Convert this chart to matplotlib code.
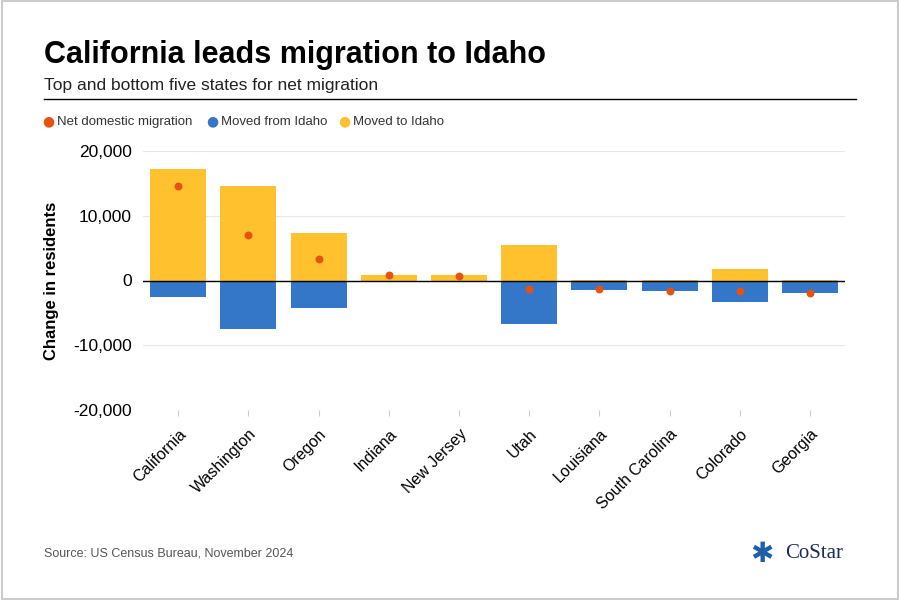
import matplotlib
matplotlib.use("Agg")
import matplotlib.pyplot as plt
from matplotlib.patches import Rectangle
import numpy as np
plt.rcParams['font.family'] = ['Liberation Sans', 'DejaVu Sans']

states = ["California","Washington","Oregon","Indiana","New Jersey","Utah","Louisiana","South Carolina","Colorado","Georgia"]
moved_to = [17200,14600,7400,800,800,5500,100,100,1800,50]
moved_from = [-2600,-7500,-4200,-100,-50,-6800,-1400,-1700,-3400,-2000]
net = [14600,7100,3400,900,700,-1300,-1300,-1600,-1600,-2000]

fig = plt.figure(figsize=(9,6), dpi=100)
fig.patches.append(Rectangle((0.002,0.002),0.996,0.996,transform=fig.transFigure,fill=False,edgecolor="#cccccc",lw=1.5))
ax = fig.add_axes([0.159,0.317,0.78,0.431])
x = np.arange(len(states))
ax.bar(x, moved_to, width=0.8, color="#FFC12E", zorder=2)
ax.bar(x, moved_from, width=0.8, color="#3476C7", zorder=2)
ax.scatter(x, net, color="#E8520F", s=22, zorder=3)
ax.axhline(0, color="black", lw=1, zorder=4)
ax.set_ylim(-20000,20000)
ax.set_xlim(-0.5,9.5)
ax.set_yticks([-20000,-10000,0,10000,20000])
ax.set_yticklabels(["-20,000","-10,000","0","10,000","20,000"], fontsize=12.5)
ax.yaxis.grid(True, color="#e8e8e8", lw=0.8, zorder=0)
ax.set_xticks(x)
ax.set_xticklabels(states, rotation=45, ha="right", rotation_mode="anchor", fontsize=11.5)
ax.tick_params(length=0, pad=8)
ax.tick_params(axis="x", length=4, color="#cccccc")
for s in ax.spines.values(): s.set_visible(False)
ax.set_ylabel("Change in residents", fontsize=12, fontweight="bold", labelpad=10)

fig.text(0.049,0.908,"California leads migration to Idaho",fontsize=22,fontweight="bold",va="center")
fig.text(0.049,0.858,"Top and bottom five states for net migration",fontsize=12.5,va="center",color="#222222")
fig.add_artist(plt.Line2D([0.049,0.951],[0.835,0.835],color="black",lw=1))
for lab,c,px in [("Net domestic migration","#E8520F",48),("Moved from Idaho","#3476C7",212),("Moved to Idaho","#FFC12E",344)]:
    fig.text(px/900,0.797,"●",color=c,fontsize=10,va="center",ha="center",family="DejaVu Sans")
    fig.text((px+9)/900,0.797,lab,fontsize=9.5,va="center",color="#333333")
fig.text(0.049,0.077,"Source: US Census Bureau, November 2024",fontsize=9,color="#555555",va="center")
fig.text(785/900,0.077,"CoStar",fontsize=15,family="Liberation Serif",color="#1a2b5c",va="center")
fig.text(762/900,0.077,"✱",fontsize=20,color="#1f5fa8",va="center",ha="center",family="DejaVu Sans")
fig.savefig("out.png", dpi=100)
